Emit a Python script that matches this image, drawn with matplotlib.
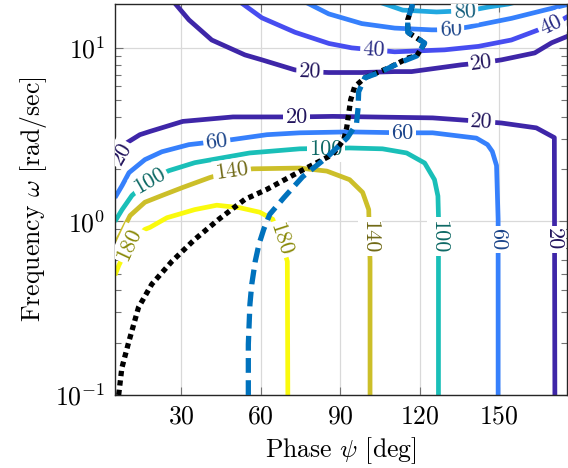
import numpy as np
import matplotlib.pyplot as plt
from matplotlib.ticker import LogLocator, NullFormatter

plt.rcParams['font.family'] = 'cmr10'
plt.rcParams['mathtext.fontset'] = 'cm'
plt.rcParams['axes.formatter.use_mathtext'] = True

# contour lines: phase psi [deg] and frequency omega [rad/s]
c20_low_psi = [5.1, 7.7, 9.6, 14.5, 18.3, 30.7, 49.6, 73.7, 87.3, 124.9, 143.4, 150.9, 164.0, 170.8, 171.0]
c20_low_w = [2.18, 2.43, 2.84, 3.16, 3.30, 3.77, 4.00, 4.0, 4.03, 3.95, 3.77, 3.69, 3.46, 3.04, 0.1]
c20_up_psi = [26.5, 33.0, 41.6, 54.1, 60.5, 72.9, 78.6, 85.7, 98.2, 110.6, 117.0, 135.8, 143.4, 150.9, 163.4, 169.8, 176.0]
c20_up_w = [19.0, 14.5, 11.1, 9.11, 8.53, 7.47, 7.28, 7.21, 7.21, 7.3, 7.3, 7.99, 8.2, 8.53, 9.35, 10.7, 11.7]
c40_psi = [51.0, 60.5, 73.0, 85.8, 94.4, 102.7, 110.6, 129.4, 142.2, 154.6, 164.8, 171.6, 176.0]
c40_w = [19.0, 14.9, 12.3, 10.6, 10.0, 9.74, 9.49, 9.74, 10.2, 11.1, 12.7, 13.9, 15.2]
c60_up_psi = [75.0, 85.7, 98.2, 110.6, 124.5, 131.7, 138.5, 154.7, 167.1, 176.0]
c60_up_w = [19.0, 15.7, 13.8, 13.0, 12.7, 12.7, 13.2, 14.8, 16.5, 17.8]
c80_psi = [102.0, 113.6, 126.4, 138.8, 146.0, 153.5, 160.0]
c80_w = [19.0, 16.5, 16.1, 16.4, 17.2, 17.9, 19.0]
c60_low_psi = [5.1, 7.8, 10.4, 16.4, 22.8, 33.0, 43.5, 49.2, 62.4, 74.8, 93.6, 113.6, 124.9, 141.4, 145.6, 147.4, 149.0, 149.6, 149.6]
c60_low_w = [1.37, 1.61, 1.91, 2.27, 2.52, 2.77, 2.89, 2.96, 3.16, 3.24, 3.28, 3.24, 3.24, 3.02, 2.77, 2.53, 2.10, 1.03, 0.1]
c100_psi = [5.1, 7.8, 11.5, 17.9, 25.4, 35.2, 55.9, 74.8, 93.6, 106.0, 115.1, 121.9, 125.6, 126.9, 127.1, 127.1]
c100_w = [1.0, 1.17, 1.41, 1.72, 1.96, 2.18, 2.48, 2.62, 2.65, 2.62, 2.48, 2.17, 1.74, 1.40, 1.07, 0.1]
c140_psi = [5.1, 7.8, 10.8, 16.4, 22.8, 30.7, 40.9, 49.2, 57.1, 74.8, 85.0, 93.6, 98.5, 100.8, 101.3, 101.3]
c140_w = [0.73, 0.876, 1.08, 1.29, 1.41, 1.57, 1.79, 1.95, 2.01, 2.03, 1.95, 1.74, 1.47, 1.17, 0.589, 0.1]
c180_psi = [5.1, 6.6, 10.4, 16.4, 18.3, 24.7, 35.2, 43.5, 52.1, 59.7, 64.6, 67.6, 70.1, 70.3]
c180_w = [0.49, 0.56, 0.73, 0.90, 0.924, 1.05, 1.17, 1.24, 1.20, 1.13, 1.03, 0.79, 0.589, 0.1]

# contour labels: level, psi, omega, rotation
lab_level = [20, 20, 20, 20, 20, 20, 40, 40, 60, 60, 60, 60, 80, 100, 100, 100, 140, 140, 180, 180]
lab_psi = [7.4, 73.7, 143.4, 170.6, 78.6, 143.4, 102.7, 169.6, 43.5, 113.6, 149.4, 131.7, 137.0, 18.3, 84.7, 127.3, 49.2, 101.3, 10.3, 67.6]
lab_w = [2.45, 3.96, 3.77, 0.79, 7.28, 8.2, 9.74, 13.5, 2.89, 3.24, 0.79, 12.7, 16.2, 1.71, 2.59, 0.82, 1.95, 0.82, 0.738, 0.79]
lab_rot = [60, 0, -3, -90, -2, 7, -3, 25, 7, 0, -90, 2, 2, 30, 0, -90, 8, -90, 65, -72]

# the two loci
dot_psi = [6.5, 7.7, 10.3, 14.0, 19.0, 26.6, 35.2, 44.3, 54.1, 62.4, 74.8, 87.2, 91.4, 92.5, 93.3, 94.0, 95.5,
           99.3, 103.8, 108.3, 115.8, 118.9, 121.9, 115.5, 115.5, 117.4]
dot_w = [0.1, 0.143, 0.202, 0.32, 0.435, 0.589, 0.788, 1.03, 1.34, 1.53, 1.94, 2.43, 2.96, 3.47, 4.23, 5.02, 5.97,
         6.72, 7.18, 7.66, 8.76, 8.99, 10.67, 12.3, 14.5, 17.9]
dash_psi = [55.4, 55.4, 56.0, 56.7, 58.0, 59.4, 61.2, 63.5, 68.8, 75.9, 85.3, 92.8, 96.2, 96.8, 97.0, 99.3, 104.5,
            113.2, 118.9, 121.9, 115.5, 115.5, 117.4]
dash_w = [0.1, 0.196, 0.333, 0.435, 0.589, 0.738, 0.90, 1.10, 1.37, 1.81, 2.36, 3.04, 3.66, 4.52, 5.58, 6.72, 7.18,
          8.30, 8.99, 10.67, 12.3, 14.5, 17.9]

colors = {20: (0.2422, 0.1504, 0.6603), 40: (0.28, 0.30, 0.94), 60: (0.21, 0.50, 0.99),
          80: (0.13, 0.66, 0.88), 100: (0.10, 0.75, 0.72), 140: (0.80, 0.75, 0.16),
          180: (0.98, 0.98, 0.05)}

fig = plt.figure(figsize=(5.68, 4.68), dpi=100)
ax = fig.add_axes([0.2019, 0.156, 0.796, 0.8355])

lines = [(20, c20_low_psi, c20_low_w), (20, c20_up_psi, c20_up_w), (40, c40_psi, c40_w),
         (60, c60_up_psi, c60_up_w), (80, c80_psi, c80_w), (60, c60_low_psi, c60_low_w),
         (100, c100_psi, c100_w), (140, c140_psi, c140_w), (180, c180_psi, c180_w)]
for lev, x, y in lines:
    ax.plot(x, y, color=colors[lev], lw=3.4, solid_capstyle='butt', solid_joinstyle='round', zorder=2)

for lev, x, y, r in zip(lab_level, lab_psi, lab_w, lab_rot):
    c = tuple(0.55 * v for v in colors[lev])
    ax.text(x, y, str(lev), color=c, fontsize=16, rotation=r, rotation_mode='anchor',
            ha='center', va='center', zorder=3, clip_on=True,
            bbox=dict(facecolor='white', edgecolor='none', pad=1.8))

ax.plot(dot_psi, dot_w, color='black', lw=3.8, linestyle=(0, (1, 0.8)), dash_capstyle='butt', zorder=4)
ax.plot(dash_psi, dash_w, color='#0072BD', lw=3.8, linestyle=(0, (2.8, 1.4)), dash_capstyle='butt', zorder=5)

ax.set_yscale('log')
ax.set_xlim(5, 175.5)
ax.set_ylim(0.1, 17.9)
ax.set_xticks([30, 60, 90, 120, 150])
ax.yaxis.set_major_locator(LogLocator(base=10))
ax.yaxis.set_minor_locator(LogLocator(base=10, subs=np.arange(2, 10)))
ax.yaxis.set_minor_formatter(NullFormatter())

ax.grid(True, which='major', color='0.85', lw=0.9)
ax.set_axisbelow(True)
ax.tick_params(which='both', direction='in', top=True, right=True, color='0.45', width=0.8, labelsize=18.5)
ax.tick_params(which='major', length=6, pad=7)
ax.tick_params(which='minor', length=4)
for s in ax.spines.values():
    s.set_color('0.15')
    s.set_linewidth(1.0)

ax.set_xlabel(r'Phase $\psi$ [deg]', fontsize=18.5, labelpad=5)
ax.set_ylabel(r'Frequency $\omega$ [rad/sec]', fontsize=18.5, labelpad=4)

fig.savefig('out.png', dpi=100)
